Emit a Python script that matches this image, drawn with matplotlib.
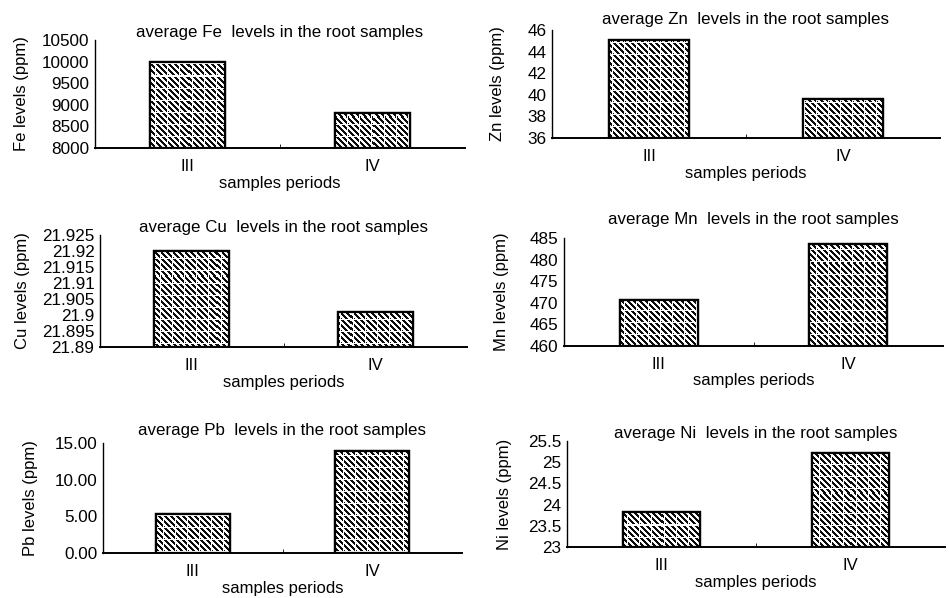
import numpy as np
import matplotlib.pyplot as plt

plt.rcParams['font.family'] = ['Liberation Sans', 'DejaVu Sans']

periods = ["III", "IV"]
metals = ["Fe", "Zn", "Cu", "Mn", "Pb", "Ni"]
fe_vals = [10000, 8820]
zn_vals = [45.05, 39.6]
cu_vals = [21.9201, 21.9008]
mn_vals = [470.6, 483.7]
pb_vals = [5.3, 13.9]
ni_vals = [23.83, 25.22]

fe_ticks = [8000, 8500, 9000, 9500, 10000, 10500]
zn_ticks = [36, 38, 40, 42, 44, 46]
cu_ticks = [21.89, 21.895, 21.9, 21.905, 21.91, 21.915, 21.92, 21.925]
mn_ticks = [460, 465, 470, 475, 480, 485]
pb_ticks = [0, 5, 10, 15]
ni_ticks = [23, 23.5, 24, 24.5, 25, 25.5]

fe_labels = [str(t) for t in fe_ticks]
zn_labels = [str(t) for t in zn_ticks]
cu_labels = ["21.89", "21.895", "21.9", "21.905", "21.91", "21.915", "21.92", "21.925"]
mn_labels = [str(t) for t in mn_ticks]
pb_labels = ["0.00", "5.00", "10.00", "15.00"]
ni_labels = ["23", "23.5", "24", "24.5", "25", "25.5"]

W, H = 949, 598
fig = plt.figure(figsize=(W / 100, H / 100), dpi=100)

# boxes in pixels: left, top, right, bottom
boxes = [(95, 40, 465, 148), (552, 30, 940, 138),
         (100, 235, 467, 347), (564, 238, 943, 346),
         (103, 443, 462, 553), (567, 441, 945, 547)]
title_pads = [1, 4, 2, 10, 6, 2]
ylabel_pads = [9, 16, 9, 15, 12, 12]
all_vals = [fe_vals, zn_vals, cu_vals, mn_vals, pb_vals, ni_vals]
all_ticks = [fe_ticks, zn_ticks, cu_ticks, mn_ticks, pb_ticks, ni_ticks]
all_labels = [fe_labels, zn_labels, cu_labels, mn_labels, pb_labels, ni_labels]


def fill_pattern(nrows, ncols):
    # dark "\" stripes crossed by a white grid, like the printed fill
    i, j = np.mgrid[0:nrows, 0:ncols]
    img = np.ones((nrows, ncols))
    img[((j - i) % 6) < 3] = 0.05
    img[(i % 12 == 0) | (j % 12 == 0)] = 1
    return img


for k in range(6):
    metal = metals[k]
    l, t, r, b = boxes[k]
    vals, ticks, labels = all_vals[k], all_ticks[k], all_labels[k]
    ax = fig.add_axes([l / W, 1 - b / H, (r - l) / W, (b - t) / H])
    x = list(range(len(periods)))
    base = ticks[0]
    heights = [v - base for v in vals]
    ax.set_xlim(-0.5, 1.5)
    ax.set_ylim(ticks[0], ticks[-1])
    bars = ax.bar(x, heights, bottom=base, width=0.41, facecolor='white',
                  edgecolor='black', linewidth=1.6, zorder=2)
    img = fill_pattern(b - t, r - l)
    for bar in bars:
        im = ax.imshow(img, cmap='gray', vmin=0, vmax=1, extent=(-0.5, 1.5, ticks[0], ticks[-1]),
                       aspect='auto', interpolation='nearest', zorder=2.5)
        im.set_clip_path(bar)
    ax.bar(x, heights, bottom=base, width=0.41, fill=False, edgecolor='black', linewidth=1.6, zorder=3)
    ax.set_xlim(-0.5, 1.5)
    ax.set_ylim(ticks[0], ticks[-1])
    ax.set_yticks(ticks)
    ax.set_yticklabels(labels, fontsize=12.3)
    ax.set_xticks(x)
    ax.set_xticklabels(periods, fontsize=12)
    ax.tick_params(axis='x', length=0, pad=8)
    ax.tick_params(axis='y', length=0, pad=4)
    ax.set_xticks([0.5], minor=True)
    ax.tick_params(axis='x', which='minor', direction='in', length=3)
    for s in ['top', 'right']:
        ax.spines[s].set_visible(False)
    ax.spines['left'].set_linewidth(1.0)
    ax.spines['bottom'].set_linewidth(1.4)
    ax.set_title(f"average {metal}  levels in the root samples", fontsize=12.2, pad=title_pads[k])
    ax.set_xlabel("samples periods", fontsize=12, labelpad=1)
    ax.set_ylabel(f"{metal} levels (ppm)", fontsize=12, labelpad=ylabel_pads[k])

fig.savefig("out.png", dpi=100)
